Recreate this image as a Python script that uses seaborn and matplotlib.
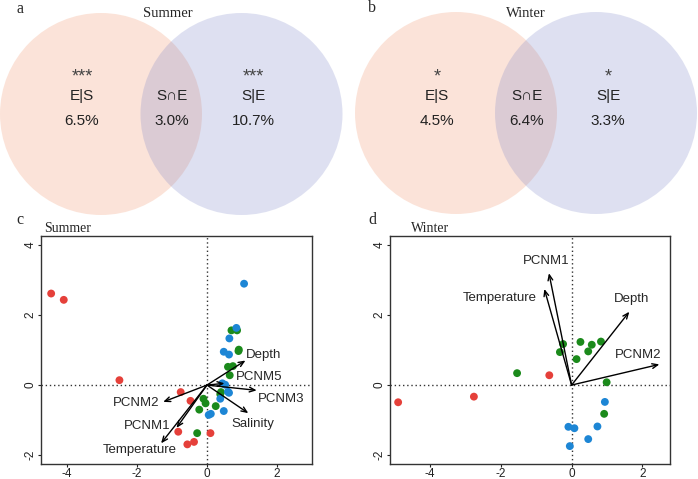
import numpy as np
import pandas as pd
import matplotlib
matplotlib.use("Agg")
import matplotlib.pyplot as plt
from matplotlib.patches import Circle
import seaborn as sns

# ---------------- data ----------------
venn_summer = {"E|S": "6.5%", "S∩E": "3.0%", "S|E": "10.7%"}
venn_summer_sig = ["***", "***"]
venn_winter = {"E|S": "4.5%", "S∩E": "6.4%", "S|E": "3.3%"}
venn_winter_sig = ["*", "*"]

# Summer ordination
sum_red_x = [-4.45, -4.09, -2.50, -0.75, -0.47, -0.82, 0.10, -0.37, -0.56]
sum_red_y = [2.61, 2.43, 0.14, -0.20, -0.45, -1.33, -1.37, -1.62, -1.69]
sum_green_x = [0.70, 0.86, 0.91, 0.90, 0.60, 0.74, 0.65, 0.40, 0.38, -0.10, -0.04, -0.22, 0.25, -0.28]
sum_green_y = [1.56, 1.56, 1.01, 0.97, 0.52, 0.54, 0.28, -0.20, -0.26, -0.39, -0.52, -0.70, -0.60, -1.37]
sum_blue_x = [1.06, 0.84, 0.64, 0.48, 0.63, 0.44, 0.52, 0.60, 0.63, 0.38, 0.48, 0.05, 0.11]
sum_blue_y = [2.89, 1.63, 1.33, 0.95, 0.87, 0.05, 0.01, -0.19, -0.22, -0.39, -0.74, -0.85, -0.82]
sum_vec_names = ["Depth", "PCNM5", "PCNM3", "Salinity", "PCNM2", "PCNM1", "Temperature"]
sum_vec_x = [1.10, 0.50, 1.42, 1.18, -1.25, -0.87, -1.31]
sum_vec_y = [0.70, 0.05, -0.15, -0.80, -0.48, -1.22, -1.66]
sum_lab_x = [1.61, 1.50, 2.11, 1.32, -2.03, -1.72, -1.91]
sum_lab_y = [0.87, 0.22, -0.41, -1.12, -0.52, -1.16, -1.85]

# Winter ordination
win_red_x = [-4.90, -2.76, -0.63]
win_red_y = [-0.49, -0.33, 0.28]
win_green_x = [-1.54, -0.33, -0.24, 0.25, 0.57, 0.47, 0.14, 0.83, 0.99, 0.92]
win_green_y = [0.34, 0.94, 1.17, 1.23, 1.15, 0.96, 0.74, 1.24, 0.08, -0.82]
win_blue_x = [0.94, 0.73, 0.47, -0.09, 0.08, -0.05]
win_blue_y = [-0.48, -1.18, -1.54, -1.19, -1.23, -1.74]
win_vec_names = ["PCNM1", "Temperature", "Depth", "PCNM2"]
win_vec_x = [-0.64, -0.77, 1.63, 2.48]
win_vec_y = [3.19, 2.74, 2.09, 0.59]
win_lab_x = [-0.71, -2.03, 1.70, 1.89]
win_lab_y = [3.53, 2.48, 2.44, 0.87]

group_names = ["G1", "G2", "G3"]
palette = {"G1": "#E5403A", "G2": "#1B8A1B", "G3": "#1D86D5"}

# ---------------- style ----------------
sns.set_style("white")
plt.rcParams["font.family"] = ["Liberation Sans", "DejaVu Sans"]
plt.rcParams["axes.unicode_minus"] = False
SERIF = ["Liberation Serif", "DejaVu Serif"]

W, H = 698, 479
fig = plt.figure(figsize=(W / 100, H / 100), dpi=100)

# overlay axes in pixel coordinates for the Venn diagrams and panel labels
ov = fig.add_axes([0, 0, 1, 1])
ov.set_xlim(0, W)
ov.set_ylim(H, 0)
ov.axis("off")


def venn(cx_left, cx_right, cy, r, vals, sig):
    ov.add_patch(Circle((cx_left, cy), r, facecolor="#F4A582", alpha=0.3, edgecolor="none"))
    ov.add_patch(Circle((cx_right, cy), r, facecolor="#7E86C8", alpha=0.25, edgecolor="none"))
    xl = cx_left - 19
    xm = (cx_left + cx_right) / 2 + 1
    xr = cx_right + 12
    fs = 11
    ov.text(xl, 77, sig[0], ha="center", va="center", fontsize=13, color="#444444")
    ov.text(xr, 77, sig[1], ha="center", va="center", fontsize=13, color="#444444")
    keys = list(vals.keys())
    for x, k in zip([xl, xm, xr], keys):
        ov.text(x, 96, k, ha="center", va="center", fontsize=fs, color="#222222")
        ov.text(x, 121, vals[k], ha="center", va="center", fontsize=fs, color="#222222")


venn(101, 241.5, 114, 101, venn_summer, venn_summer_sig)
venn(456, 596, 113, 101, venn_winter, venn_winter_sig)

ov.text(168, 13, "Summer", ha="center", va="center", fontsize=10.5, family=SERIF)
ov.text(526, 13, "Winter", ha="center", va="center", fontsize=10.5, family=SERIF)
for x, y, s in [(20, 9, "a"), (372, 8, "b"), (20, 220, "c"), (372, 220, "d")]:
    ov.text(x, y, s, ha="center", va="center", fontsize=11.5, family=SERIF)
ov.text(68, 228, "Summer", ha="center", va="center", fontsize=10, family=SERIF)
ov.text(430, 228, "Winter", ha="center", va="center", fontsize=10, family=SERIF)


def make_df(rx, ry, gx, gy, bx, by):
    return pd.DataFrame({
        "x": list(rx) + list(gx) + list(bx),
        "y": list(ry) + list(gy) + list(by),
        "group": [group_names[0]] * len(rx) + [group_names[1]] * len(gx) + [group_names[2]] * len(bx),
    })


def ord_panel(rect, df, xlim, names, vx, vy, lx, ly):
    ax = fig.add_axes(rect)
    ax.axhline(0, ls=(0, (1, 2)), color="#333333", lw=1, zorder=1)
    ax.axvline(0, ls=(0, (1, 2)), color="#333333", lw=1, zorder=1)
    sns.scatterplot(data=df, x="x", y="y", hue="group", palette=palette, s=32,
                    edgecolor="none", legend=False, ax=ax, zorder=3)
    for n, x, y, tx, ty in zip(names, vx, vy, lx, ly):
        ax.annotate("", xy=(x, y), xytext=(0, 0),
                    arrowprops=dict(arrowstyle="->,head_length=0.4,head_width=0.17",
                                    color="black", lw=1.0, shrinkA=0, shrinkB=0), zorder=4)
        ax.text(tx, ty, n, ha="center", va="center", fontsize=9.5, zorder=5)
    ax.set_xlim(*xlim)
    ax.set_ylim(-2.25, 4.25)
    ax.set_xticks([-4, -2, 0, 2])
    ax.set_yticks([-2, 0, 2, 4])
    ax.set_xlabel("")
    ax.set_ylabel("")
    ax.tick_params(axis="both", which="both", direction="out", length=2.5, width=0.8,
                   labelsize=8.5, colors="#222222", bottom=True, left=True, pad=0.5)
    for lab in ax.get_yticklabels():
        lab.set_rotation(90)
        lab.set_va("center")
    for sp in ax.spines.values():
        sp.set_color("#333333")
        sp.set_linewidth(1.0)
    return ax


df_s = make_df(sum_red_x, sum_red_y, sum_green_x, sum_green_y, sum_blue_x, sum_blue_y)
df_w = make_df(win_red_x, win_red_y, win_green_x, win_green_y, win_blue_x, win_blue_y)

ord_panel([41 / W, (H - 464) / H, 271 / W, 228 / H], df_s, (-4.74, 3.0),
          sum_vec_names, sum_vec_x, sum_vec_y, sum_lab_x, sum_lab_y)
ord_panel([390 / W, (H - 464) / H, 280 / W, 228 / H], df_w, (-5.13, 2.78),
          win_vec_names, win_vec_x, win_vec_y, win_lab_x, win_lab_y)

fig.savefig("out.png", dpi=100)
